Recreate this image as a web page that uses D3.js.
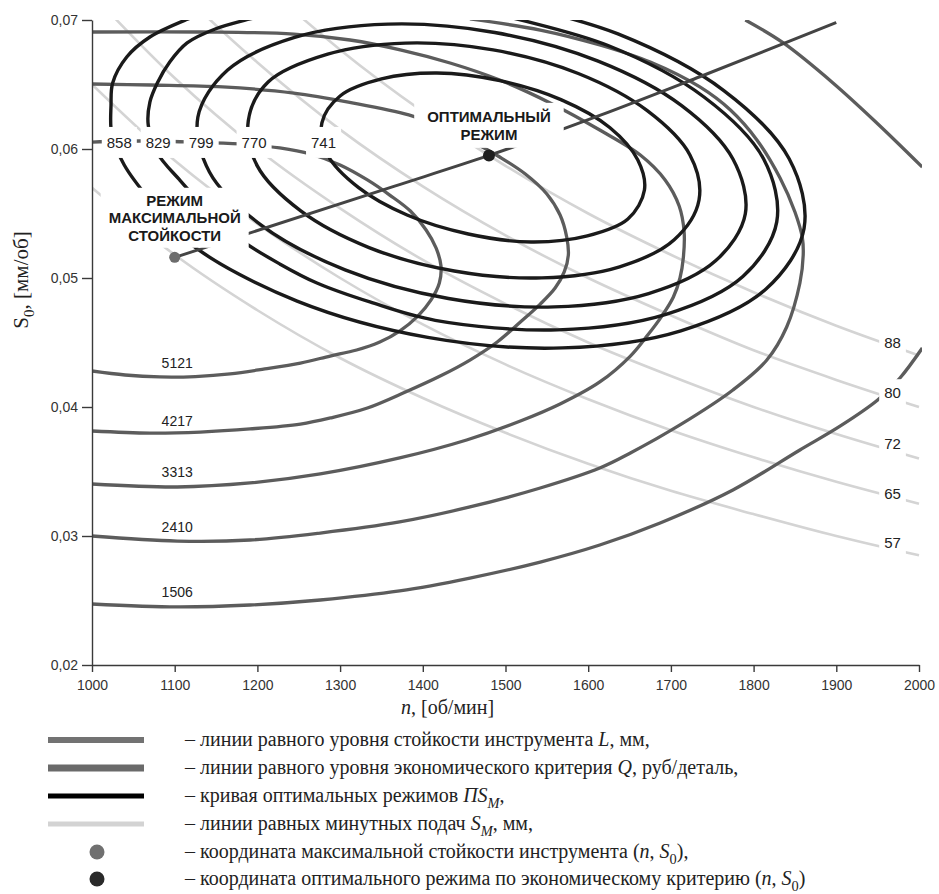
<!DOCTYPE html>
<html><head><meta charset="utf-8">
<script src="https://cdn.jsdelivr.net/npm/d3@7"></script>
<style>
body{margin:0;background:#fff;}
svg{display:block;}
</style></head><body>
<svg id="chart" width="939" height="894"></svg>
<script>
// ---------------- DATA ----------------
const nTicks = [1000,1100,1200,1300,1400,1500,1600,1700,1800,1900,2000];
const sTicks = [0.02,0.03,0.04,0.05,0.06,0.07];

// lines of equal minute feed S_M (read along n grid)
const smN  = [1000,1100,1200,1300,1400,1500,1600,1700,1800,1900,2000];
const sm57 = [0.0570,0.0518,0.0475,0.0438,0.0407,0.0380,0.0356,0.0335,0.0317,0.0300,0.0285];
const sm65 = [0.0650,0.0591,0.0542,0.0500,0.0464,0.0433,0.0406,0.0382,0.0361,0.0342,0.0325];
const sm72 = [0.0720,0.0655,0.0600,0.0554,0.0514,0.0480,0.0450,0.0424,0.0400,0.0379,0.0360];
const sm80 = [0.0800,0.0727,0.0667,0.0615,0.0571,0.0533,0.0500,0.0471,0.0444,0.0421,0.0400];
const sm88 = [0.0880,0.0800,0.0733,0.0677,0.0629,0.0587,0.0550,0.0518,0.0489,0.0463,0.0440];
const smLevels = ['57','65','72','80','88'];
const smLabelN = 1968;
const smLabelS = [0.0295,0.0333,0.0372,0.0411,0.0450];

// lines of equal economic criterion Q (black), [n, S0]
const Q741 = [[1668,.05682],[1648,.05457],[1599,.05326],[1531,.05279],[1455,.05341],[1381,.05488],[1322,.05702],[1285,.05953],[1278,.06202],[1300,.06411],[1350,.06543],[1417,.06589],[1493,.06530],[1567,.06383],[1626,.06167],[1660,.05915]];
const Q770 = [[1734,.05605],[1704,.05297],[1638,.05087],[1544,.05001],[1438,.05054],[1335,.05236],[1252,.05522],[1200,.05867],[1189,.06219],[1213,.06519],[1285,.06735],[1379,.06821],[1485,.06768],[1588,.06585],[1671,.06299],[1723,.05954]];
const Q799 = [[1790,.05498],[1754,.05133],[1673,.04879],[1559,.04776],[1431,.04841],[1306,.05063],[1205,.05408],[1142,.05822],[1128,.06246],[1164,.06612],[1245,.06865],[1358,.06968],[1487,.06903],[1612,.06681],[1713,.06336],[1775,.05922]];
const Q829 = [[1481,.07057],[1624,.06802],[1740,.06403],[1812,.05924],[1828,.05435],[1787,.05011],[1694,.04718],[1563,.04598],[1415,.04672],[1336,.04814],[1272,.04961],[1227,.05109],[1184,.05279],[1143,.05504],[1106,.05760],[1079,.05969],[1068,.06186],[1070,.06364],[1079,.06512],[1094,.06674],[1115,.06822],[1149,.06930],[1191,.07008],[1239,.07078]];
const Q858 = [[1478,.07174],[1636,.06892],[1764,.06453],[1843,.05924],[1861,.05384],[1815,.04915],[1712,.04591],[1569,.04458],[1406,.04540],[1248,.04821],[1120,.05260],[1070,.05605],[1039,.05876],[1024,.06109],[1023,.06341],[1025,.06512],[1042,.06713],[1070,.06868],[1113,.07000],[1155,.07093]];
const qLabels = ['858','829','799','770','741'];
const qLabelN = [1033,1080,1132,1196,1280];
const qLabelS = 0.0605;

// lines of equal tool life L (gray), [n, S0]
const L5121 = [[1000,.06054],[1058,.06062],[1119,.06054],[1179,.06039],[1227,.06008],[1264,.05961],[1300,.05876],[1333,.05760],[1360,.05643],[1385,.05519],[1404,.05372],[1416,.05233],[1422,.05093],[1420,.04961],[1410,.04830],[1394,.04705],[1372,.04589],[1348,.04504],[1320,.04442],[1288,.04395],[1252,.04341],[1209,.04295],[1167,.04256],[1125,.04236],[1082,.04233],[1040,.04248],[1000,.04279]];
const L4217 = [[1000,.06504],[1071,.06496],[1158,.06481],[1244,.06434],[1310,.06364],[1383,.06264],[1427,.06155],[1463,.06047],[1493,.05938],[1524,.05806],[1550,.05651],[1566,.05488],[1574,.05318],[1576,.05178],[1571,.05047],[1560,.04922],[1542,.04798],[1518,.04659],[1490,.04504],[1457,.04364],[1421,.04240],[1379,.04116],[1333,.03992],[1288,.03915],[1252,.03868],[1191,.03830],[1131,.03806],[1070,.03798],[1000,.03814]];
const L3313 = [[1000,.06907],[1131,.06907],[1244,.06891],[1312,.06845],[1374,.06767],[1433,.06667],[1493,.06535],[1554,.06357],[1614,.06147],[1663,.05953],[1693,.05760],[1710,.05558],[1716,.05357],[1715,.05155],[1711,.05000],[1703,.04853],[1689,.04705],[1672,.04558],[1651,.04395],[1614,.04194],[1566,.04023],[1518,.03891],[1453,.03744],[1372,.03605],[1276,.03481],[1191,.03411],[1103,.03380],[1000,.03403]];
const L2410 = [[1457,.07008],[1542,.06922],[1614,.06806],[1675,.06674],[1735,.06481],[1772,.06302],[1804,.06070],[1832,.05775],[1850,.05512],[1859,.05310],[1860,.05178],[1856,.04961],[1840,.04620],[1816,.04364],[1775,.04132],[1711,.03861],[1651,.03643],[1614,.03527],[1542,.03372],[1457,.03225],[1372,.03109],[1276,.03023],[1191,.02969],[1103,.02961],[1000,.03000]];
const L1506a = [[1000,.02473],[1103,.02450],[1191,.02465],[1276,.02504],[1372,.02574],[1457,.02674],[1542,.02798],[1614,.02930],[1687,.03101],[1775,.03357],[1856,.03667],[1905,.03853],[1950,.04054],[1977,.04225],[2004,.04457]];
const L1506b = [[1790,.07000],[1836,.06822],[1896,.06512],[1949,.06202],[2004,.05860]];
const lLabels = ['5121','4217','3313','2410','1506'];
const lLabelN = 1103;
const lLabelS = [0.0434,0.0389,0.0350,0.0307,0.0257];

// curve of optimal modes and key points
const optimalLine = [[1100,.0516],[1365,.0571],[1480,.0595],[1614,.0626],[1735,.0656],[1900,.0698]];
const maxPoint = [1100,.0516];
const optPoint = [1480,.0595];
const maxLabel = ['РЕЖИМ','МАКСИМАЛЬНОЙ','СТОЙКОСТИ'];
const optLabel = ['ОПТИМАЛЬНЫЙ','РЕЖИМ'];

const xTitle = [['n','i'],[', [об/мин]','']];
const yTitle = [['S',''],['0','sub'],[', [мм/об]','']];
const legendTexts = [
  [['– линии равного уровня стойкости инструмента ',''],['L','i'],[', мм,','']],
  [['– линии равного уровня экономического критерия ',''],['Q','i'],[', руб/деталь,','']],
  [['– кривая оптимальных режимов ',''],['ПS','i'],['M','isub'],[',','']],
  [['– линии равных минутных подач ',''],['S','i'],['M','isub'],[', мм,','']],
  [['– координата максимальной стойкости инструмента (',''],['n','i'],[', ',''],['S','i'],['0','sub'],['),','']],
  [['– координата оптимального режима по экономическому критерию  (',''],['n','i'],[', ',''],['S','i'],['0','sub'],[')','']]
];

// ---------------- DRAW ----------------
const svg = d3.select('#chart');
const M = {l:92, t:20, r:919, b:665};
const x = d3.scaleLinear().domain([1000,2000]).range([M.l, M.r]);
const y = d3.scaleLinear().domain([0.02,0.07]).range([M.b, M.t]);

svg.append('defs').append('clipPath').attr('id','plotClip')
  .append('rect').attr('x',M.l).attr('y',M.t).attr('width',M.r-M.l+3).attr('height',M.b-M.t);

const open = d3.line().x(d=>x(d[0])).y(d=>y(d[1])).curve(d3.curveCatmullRom.alpha(0.5));
const closed = d3.line().x(d=>x(d[0])).y(d=>y(d[1])).curve(d3.curveCatmullRomClosed.alpha(0.5));

const plot = svg.append('g').attr('clip-path','url(#plotClip)');

// S_M lines
[sm57,sm65,sm72,sm80,sm88].forEach(arr=>{
  plot.append('path').attr('d', open(smN.map((n,i)=>[n,arr[i]])))
    .attr('fill','none').attr('stroke','#d4d4d4').attr('stroke-width',2.6);
});
// L lines
[L5121,L4217,L3313,L2410,L1506a,L1506b].forEach(arr=>{
  plot.append('path').attr('d', open(arr)).attr('fill','none')
    .attr('stroke','#5c5c5c').attr('stroke-width',3.3);
});
// Q lines
[Q741,Q770,Q799].forEach(arr=>{
  plot.append('path').attr('d', closed(arr)).attr('fill','none')
    .attr('stroke','#1a1a1a').attr('stroke-width',3.4);
});
[Q829,Q858].forEach(arr=>{
  plot.append('path').attr('d', open(arr)).attr('fill','none')
    .attr('stroke','#1a1a1a').attr('stroke-width',3.4);
});
// optimal line
plot.append('path').attr('d', d3.line().x(d=>x(d[0])).y(d=>y(d[1])).curve(d3.curveMonotoneX)(optimalLine))
  .attr('fill','none').attr('stroke','#444').attr('stroke-width',3);

// labels with white backgrounds
const bgG = svg.append('g');
const txtG = svg.append('g');
function addBg(nodes, px, py){
  let x0=1e9,y0=1e9,x1=-1e9,y1=-1e9;
  nodes.forEach(nd=>{const b=nd.getBBox(); x0=Math.min(x0,b.x); y0=Math.min(y0,b.y); x1=Math.max(x1,b.x+b.width); y1=Math.max(y1,b.y+b.height);});
  bgG.append('rect').attr('x',x0-px).attr('y',y0-py).attr('width',x1-x0+2*px).attr('height',y1-y0+2*py).attr('fill','#fff');
}
const numFont = '"Liberation Sans", Arial, sans-serif';
qLabels.forEach((t,i)=>{
  const tx = txtG.append('text').attr('x',x(qLabelN[i])).attr('y',y(qLabelS)).attr('dy','0.36em')
    .attr('text-anchor','middle').attr('font-family',numFont).attr('font-size',15).attr('fill','#222').text(t);
  addBg([tx.node()],5,7);
});
lLabels.forEach((t,i)=>{
  txtG.append('text').attr('x',x(lLabelN)).attr('y',y(lLabelS[i])).attr('dy','0.36em')
    .attr('text-anchor','middle').attr('font-family',numFont).attr('font-size',14).attr('fill','#222').text(t);
});
smLevels.forEach((t,i)=>{
  const tx = txtG.append('text').attr('x',x(smLabelN)).attr('y',y(smLabelS[i])).attr('dy','0.36em')
    .attr('text-anchor','middle').attr('font-family',numFont).attr('font-size',15).attr('fill','#222').text(t);
  addBg([tx.node()],5,5);
});
// block labels
function blockLabel(lines, pt, offsets, padx, pady){
  const nodes = lines.map((t,i)=> txtG.append('text').attr('x',x(pt[0])).attr('y',y(pt[1])+offsets[i]).attr('dy','0.36em')
    .attr('text-anchor','middle').attr('font-family',numFont).attr('font-weight','bold').attr('font-size',15)
    .attr('fill','#1a1a1a').text(t).node());
  addBg(nodes,padx,pady);
}
blockLabel(optLabel, optPoint, [-39,-21], 13, 5);
blockLabel(maxLabel, maxPoint, [-57,-40,-22], 8, 4);

// points
svg.append('circle').attr('cx',x(maxPoint[0])).attr('cy',y(maxPoint[1])).attr('r',5.5).attr('fill','#6c6c6c');
svg.append('circle').attr('cx',x(optPoint[0])).attr('cy',y(optPoint[1])).attr('r',6).attr('fill','#1e1e1e');

// axes
const ax = svg.append('g').attr('transform',`translate(0,${M.b})`)
  .call(d3.axisBottom(x).tickValues(nTicks).tickSize(7).tickSizeOuter(0).tickPadding(8).tickFormat(d3.format('d')));
const ay = svg.append('g').attr('transform',`translate(${M.l},0)`)
  .call(d3.axisLeft(y).tickValues(sTicks).tickSize(10).tickSizeOuter(0).tickPadding(4).tickFormat(d=>d3.format('.2f')(d).replace('.',',')));
[ax,ay].forEach(a=>{
  a.selectAll('path,line').attr('stroke','#3a3a3a').attr('stroke-width',1.4);
  a.selectAll('text').attr('font-family',numFont).attr('font-size',14).attr('fill','#333');
});

// rich text helper
const serif = '"Liberation Serif", "Times New Roman", serif';
function rich(sel, parts, size){
  let shift = 0;
  parts.forEach(([str,st])=>{
    const sub = st.includes('sub');
    const ts = sel.append('tspan').text(str);
    if (st.includes('i')) ts.attr('font-style','italic');
    const target = sub ? size*0.28 : 0;
    if (target!==shift){ ts.attr('dy', target-shift); shift = target; }
    if (sub) ts.attr('font-size', size*0.72);
  });
}
// axis titles
const xt = svg.append('text').attr('x',401).attr('y',714).attr('text-anchor','start')
  .attr('font-family',serif).attr('font-size',20).attr('fill','#222');
rich(xt, xTitle, 20);
const yt = svg.append('text').attr('transform','translate(28,280) rotate(-90)').attr('text-anchor','middle')
  .attr('font-family',serif).attr('font-size',21).attr('fill','#222');
rich(yt, yTitle, 21);

// legend
const legY = [740,768,796,824,852,879];
const legStyles = [
  {kind:'line', color:'#727272', w:6},
  {kind:'line', color:'#6a6a6a', w:7},
  {kind:'line', color:'#000000', w:5},
  {kind:'line', color:'#d3d3d3', w:5},
  {kind:'dot',  color:'#707070'},
  {kind:'dot',  color:'#2a2a2a'}
];
legendTexts.forEach((parts,i)=>{
  const st = legStyles[i], cy = legY[i];
  if (st.kind==='line') svg.append('line').attr('x1',48).attr('x2',144).attr('y1',cy).attr('y2',cy)
    .attr('stroke',st.color).attr('stroke-width',st.w);
  else svg.append('circle').attr('cx',97).attr('cy',cy).attr('r',7.5).attr('fill',st.color);
  const t = svg.append('text').attr('x',185).attr('y',cy+6).attr('font-family',serif).attr('font-size',20).attr('fill','#222');
  rich(t, parts, 20);
});
</script>
</body></html>
